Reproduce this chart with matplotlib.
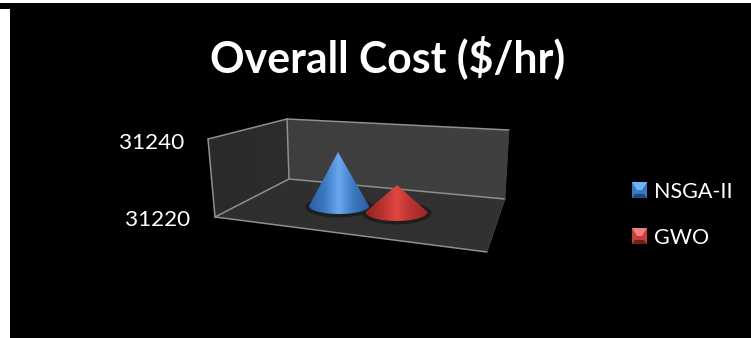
import numpy as np
import matplotlib
matplotlib.use("Agg")
import matplotlib.pyplot as plt
from matplotlib.patches import Polygon, Ellipse, Rectangle
from matplotlib.colors import LinearSegmentedColormap

plt.rcParams['font.family'] = ['Lato', 'DejaVu Sans']

title = "Overall Cost ($/hr)"
series = ["NSGA-II", "GWO"]
values = [31234, 31227]
axis_ticks = [31220, 31240]

W, H = 751, 338
fig = plt.figure(figsize=(W/100, H/100), dpi=100, facecolor='white')
ax = fig.add_axes([0, 0, 1, 1])
ax.set_xlim(0, W); ax.set_ylim(H, 0); ax.axis('off')

ax.add_patch(Rectangle((10, 3), W-10, H-3, fc='black', ec='none', zorder=0))
ax.add_patch(Rectangle((0, 3), 10, 6, fc='black', ec='none', zorder=0))

def grad_poly(pts, extent, colors, horizontal=True, z=1):
    cm = LinearSegmentedColormap.from_list('g', colors)
    n = 256
    g = np.linspace(0, 1, n)
    img = g[None, :] if horizontal else g[:, None]
    im = ax.imshow(img, cmap=cm, extent=extent, aspect='auto', zorder=z,
                   interpolation='bilinear', vmin=0, vmax=1)
    p = Polygon(pts, closed=True, transform=ax.transData, fc='none', ec='none')
    ax.add_patch(p)
    im.set_clip_path(p)

# walls and floor
TL, TM, TR = (208, 139), (287, 119), (509, 130)
BL, BM, BR = (215, 217), (289, 179), (505, 199)
FR = (487, 252)
grad_poly([TL, TM, BM, BL], (208, 289, 217, 119), ['#2a2a2a', '#2d2d2d'], z=1)
grad_poly([TM, TR, BR, BM], (287, 509, 199, 119), ['#3e3e3e', '#404040'], z=1)
grad_poly([BL, BM, BR, FR], (215, 505, 252, 179), ['#2f2f2f', '#323232'], z=1)
edge = '#8f8f8f'
for a, b in [(TL, TM), (TM, TR), (TL, BL), (TM, BM), (BL, BM), (BM, BR), (BL, FR)]:
    ax.plot([a[0], b[0]], [a[1], b[1]], color=edge, lw=1.1, zorder=2, solid_capstyle='round')
ax.plot([TR[0], BR[0]], [TR[1], BR[1]], color='#484848', lw=0.5, zorder=2)
ax.plot([BR[0], FR[0]], [BR[1], FR[1]], color='#484848', lw=0.5, zorder=2)

# cones
def val_h(v):
    return (v - axis_ticks[0]) * 3.86

centers = [(339, 206), (396.5, 212)]
rx = [30, 31]
ry = [8, 9]
apex_dx = [-1, 0.5]
cols = [['#2f5f9f', '#3a78c0', '#69a8ee', '#3a78c0', '#2f5f9f'],
        ['#8e2422', '#b5312f', '#e04642', '#b5312f', '#9e2826']]
for (cx, cy), a, b in zip(centers, rx, ry):
    ax.add_patch(Ellipse((cx, cy+1), 2*a+8, 2*b+5, fc='#1e1e1e', ec='none', zorder=3))
for v, (cx, cy), a, b, c, d in zip(values, centers, rx, ry, cols, apex_dx):
    top = cy - val_h(v)
    t = np.linspace(0, np.pi, 60)
    arc = [(cx + a*np.cos(s), cy + b*np.sin(s)) for s in t]
    pts = [(cx+d, top)] + arc
    grad_poly(pts, (cx-a, cx+a, cy+b, top), c, z=4)

# axis labels
ax.text(184, 149, str(axis_ticks[1]), color='white', fontsize=16.2, ha='right', va='baseline', zorder=6)
ax.text(190, 226, str(axis_ticks[0]), color='white', fontsize=16.2, ha='right', va='baseline', zorder=6)

ax.text(387.5, 72, title, color='white', fontsize=30.8, fontweight='bold', ha='center', va='baseline', zorder=6)

# legend
leg_base = [198, 244]
leg_cols = [('#2c5e9e', '#6fb4f4', '#3c78bd', '#1f4a80'), ('#8e2826', '#f08080', '#c83c3a', '#6f1f1e')]
for name, b, (base, light, mid, dark) in zip(series, leg_base, leg_cols):
    x0, x1 = 632, 647
    y0, y1 = b-16, b
    ax.add_patch(Rectangle((x0, y0), x1-x0, y1-y0, fc=mid, ec='none', zorder=5))
    ax.add_patch(Polygon([(x0, y0), (x1, y0), (x1-5, y0+8), (x0+5, y0+8)], fc=light, ec='none', zorder=6))
    ax.add_patch(Polygon([(x0, y1), (x1, y1), (x1-3, y1-4), (x0+3, y1-4)], fc=dark, ec='none', zorder=6))
    ax.text(654, b, name, color='white', fontsize=15.5, ha='left', va='baseline', zorder=6)

fig.savefig('out.png', dpi=100, facecolor='white')
